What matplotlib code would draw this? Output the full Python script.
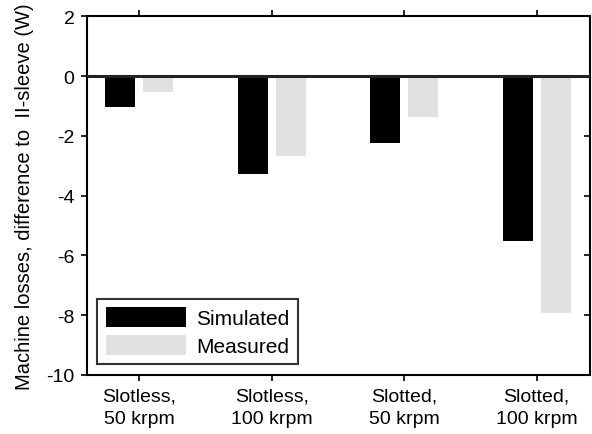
import numpy as np
import matplotlib
matplotlib.use("Agg")
import matplotlib.pyplot as plt

plt.rcParams['font.family'] = ['Liberation Sans', 'DejaVu Sans']
plt.rcParams['axes.unicode_minus'] = False

# data
categories = ['Slotless,\n50 krpm', 'Slotless,\n100 krpm',
              'Slotted,\n50 krpm', 'Slotted,\n100 krpm']
simulated = [-1.02, -3.27, -2.23, -5.52]
measured = [-0.54, -2.67, -1.37, -7.93]

x = np.arange(len(categories))
w = 0.227
off = 0.144

fig = plt.figure(figsize=(5.92, 4.35), dpi=100)
ax = fig.add_axes([0.147, 0.136, 0.849, 0.824])

ax.bar(x - off, simulated, w, color='black', label='Simulated')
ax.bar(x + off, measured, w, color='#e1e1e1', label='Measured')
ax.axhline(0, color='#222222', lw=2.2, zorder=3)

ax.set_xlim(-0.395, 3.4)
ax.set_ylim(-10, 2)
ax.set_yticks(np.arange(-10, 3, 2))
ax.set_xticks(x)
ax.set_xticklabels(categories, fontsize=14, linespacing=1.4)
ax.tick_params(axis='y', labelsize=14, direction='out', length=4, width=1.2,
               right=True, pad=5)
ax.tick_params(axis='x', direction='out', length=4, width=1.2, top=True, pad=5)
for s in ax.spines.values():
    s.set_linewidth(1.5)
# right side ticks point inward
for t in ax.yaxis.get_major_ticks():
    t.tick2line.set_marker(matplotlib.lines.TICKLEFT)
ax.set_ylabel('Machine losses, difference to  II-sleeve (W)', fontsize=14.5,
              labelpad=9)

leg = ax.legend(loc='lower left', fontsize=15, handlelength=3.85,
                handleheight=1.05, frameon=True, fancybox=False,
                borderaxespad=0.5, borderpad=0.4, labelspacing=0.35,
                handletextpad=0.5)
leg.get_frame().set_edgecolor('black')
leg.get_frame().set_linewidth(1.5)

fig.savefig('out.png', dpi=100)
